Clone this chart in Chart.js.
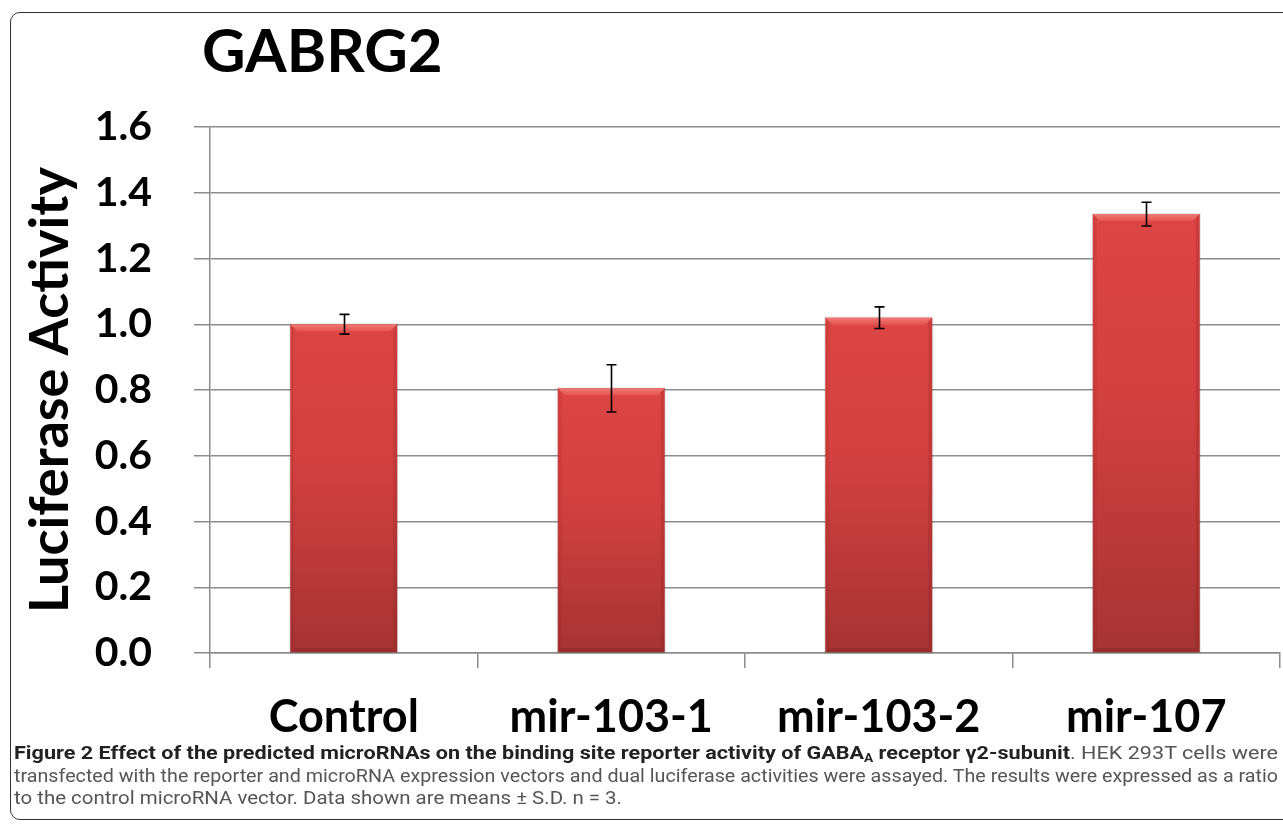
<!DOCTYPE html>
<html>
<head>
<meta charset="utf-8">
<script src="https://cdn.jsdelivr.net/npm/chart.js@4.4.1/dist/chart.umd.min.js"></script>
<style>
  html, body { margin: 0; padding: 0; background: #fff; width: 1283px; height: 825px; overflow: hidden; }
  #frame { position: absolute; left: 10px; top: 12px; width: 1300px; height: 808px; border: 1.5px solid #333; border-radius: 10px; box-sizing: border-box; }
  #wrap { position: absolute; left: 0; top: 0; width: 1283px; height: 760px; }
  #title { position: absolute; left: 202px; top: 13px; font: bold 60px Lato, "Open Sans", sans-serif; color: #000; }
  #caption { position: absolute; left: 14px; top: 742px; width: 1264px; font-family: Roboto, "Open Sans", sans-serif; font-size: 19px; line-height: 22.5px; color: #555; }
  #caption .ln { white-space: nowrap; height: 22.5px; }
  #caption .ln span.inner { display: inline-block; transform-origin: 0 0; }
  #caption b { color: #222; }
  #caption sub { font-size: 12px; line-height: 0; vertical-align: -3px; }
</style>
</head>
<body>
<div id="frame"></div>
<div id="title">GABRG2</div>
<div id="wrap"><canvas id="c" width="1283" height="760"></canvas></div>
<div id="caption">
  <div class="ln" data-w="1264"><span class="inner"><b>Figure 2 Effect of the predicted microRNAs on the binding site reporter activity of GABA<sub>A</sub> receptor γ2-subunit</b>. HEK 293T cells were</span></div>
  <div class="ln" data-w="1264"><span class="inner">transfected with the reporter and microRNA expression vectors and dual luciferase activities were assayed. The results were expressed as a ratio</span></div>
  <div class="ln" data-w="608"><span class="inner">to the control microRNA vector. Data shown are means ± S.D. n = 3.</span></div>
</div>
<script>
const categories = ["Control", "mir-103-1", "mir-103-2", "mir-107"];
const meanValues = [1.0, 0.805, 1.02, 1.335];
const sdValues = [0.03, 0.072, 0.033, 0.036];
const yTickLabels = ["0.0", "0.2", "0.4", "0.6", "0.8", "1.0", "1.2", "1.4", "1.6"];

const FONT = "Lato, 'Open Sans', sans-serif";

// fit caption lines to their widths
document.querySelectorAll('#caption .ln').forEach(ln => {
  const inner = ln.querySelector('.inner');
  const target = parseFloat(ln.dataset.w);
  const w = inner.getBoundingClientRect().width;
  if (w > 0) inner.style.transform = 'scaleX(' + (target / w) + ')';
});

function barFill(ctx) {
  const chart = ctx.chart;
  const ys = chart.scales && chart.scales.y;
  if (!chart.chartArea || !ys || ctx.parsed === undefined) return '#d04040';
  const top = ys.getPixelForValue(ctx.parsed.y);
  const base = ys.getPixelForValue(0);
  if (!isFinite(top) || !isFinite(base) || base - top < 1) return '#d04040';
  const g = chart.ctx.createLinearGradient(0, top, 0, base);
  g.addColorStop(0, '#dc4543');
  g.addColorStop(0.45, '#d14040');
  g.addColorStop(1, '#a63333');
  return g;
}

const bevelPlugin = {
  id: 'bevel',
  afterDatasetsDraw(chart) {
    const c = chart.ctx;
    const meta = chart.getDatasetMeta(0);
    c.save();
    meta.data.forEach(bar => {
      const l = bar.x - bar.width / 2, r = bar.x + bar.width / 2, t = bar.y, b = bar.base;
      const d = 7;
      const g = c.createLinearGradient(0, t, 0, t + d);
      g.addColorStop(0, '#f27a75');
      g.addColorStop(1, '#e25350');
      c.fillStyle = g;
      c.beginPath();
      c.moveTo(l, t); c.lineTo(r, t); c.lineTo(r - d, t + d); c.lineTo(l + d, t + d); c.closePath();
      c.fill();
      c.fillStyle = 'rgba(120,20,20,0.18)';
      c.beginPath();
      c.moveTo(r, t); c.lineTo(r, b); c.lineTo(r - 4, b - 4); c.lineTo(r - 4, t + 4); c.closePath(); c.fill();
      c.fillStyle = 'rgba(120,20,20,0.10)';
      c.beginPath();
      c.moveTo(l, t); c.lineTo(l, b); c.lineTo(l + 4, b - 4); c.lineTo(l + 4, t + 4); c.closePath(); c.fill();
      c.fillStyle = 'rgba(90,10,10,0.15)';
      c.beginPath();
      c.moveTo(l, b); c.lineTo(r, b); c.lineTo(r - 4, b - 4); c.lineTo(l + 4, b - 4); c.closePath(); c.fill();
      c.strokeStyle = 'rgba(0,0,0,0.10)';
      c.lineWidth = 1;
      c.strokeRect(l - 0.5, t - 0.5, r - l + 1, b - t + 1);
    });
    c.restore();
  }
};

const errorBarPlugin = {
  id: 'errbars',
  afterDatasetsDraw(chart) {
    const c = chart.ctx;
    const ys = chart.scales.y;
    const meta = chart.getDatasetMeta(0);
    c.save();
    c.strokeStyle = '#000';
    c.lineWidth = 1.6;
    meta.data.forEach((bar, i) => {
      const x = Math.round(bar.x) + 0.5;
      const yt = ys.getPixelForValue(meanValues[i] + sdValues[i]);
      const yb = ys.getPixelForValue(meanValues[i] - sdValues[i]);
      c.beginPath();
      c.moveTo(x, yt); c.lineTo(x, yb);
      c.moveTo(x - 5, yt); c.lineTo(x + 5, yt);
      c.moveTo(x - 5, yb); c.lineTo(x + 5, yb);
      c.stroke();
    });
    c.restore();
  }
};

new Chart(document.getElementById('c'), {
  type: 'bar',
  data: {
    labels: categories,
    datasets: [{
      data: meanValues,
      backgroundColor: barFill,
      borderWidth: 0,
      barPercentage: 0.4,
      categoryPercentage: 1.0
    }]
  },
  options: {
    responsive: false,
    animation: false,
    events: [],
    layout: { padding: { top: 127, right: 3, left: 0, bottom: 0 } },
    plugins: { legend: { display: false }, tooltip: { enabled: false }, title: { display: false } },
    scales: {
      x: {
        afterFit(s) { s.height = 107; },
        grid: { display: true, offset: true, drawOnChartArea: false, drawTicks: true, tickLength: 15, color: '#8c8c8c', lineWidth: 1.5 },
        border: { display: true, color: '#8c8c8c', width: 1.5 },
        ticks: { color: '#000', font: { family: FONT, weight: 'bold', size: 45 }, padding: 22, maxRotation: 0, autoSkip: false }
      },
      y: {
        min: 0, max: 1.6,
        afterFit(s) { s.width = 210; },
        afterBuildTicks(s) { s.ticks = yTickLabels.map(t => ({ value: parseFloat(t) })); },
        grid: { color: '#8c8c8c', lineWidth: 1.5, tickLength: 16, drawTicks: true },
        border: { display: true, color: '#8c8c8c', width: 1.5 },
        ticks: {
          color: '#000', padding: 42,
          font: { family: FONT, weight: 'bold', size: 41 },
          callback: (v, i) => yTickLabels[i]
        },
        title: { display: true, text: 'Luciferase Activity', color: '#000', font: { family: FONT, weight: 'bold', size: 54 }, padding: { top: 18, bottom: 0 } }
      }
    }
  },
  plugins: [bevelPlugin, errorBarPlugin]
});
</script>
</body>
</html>
